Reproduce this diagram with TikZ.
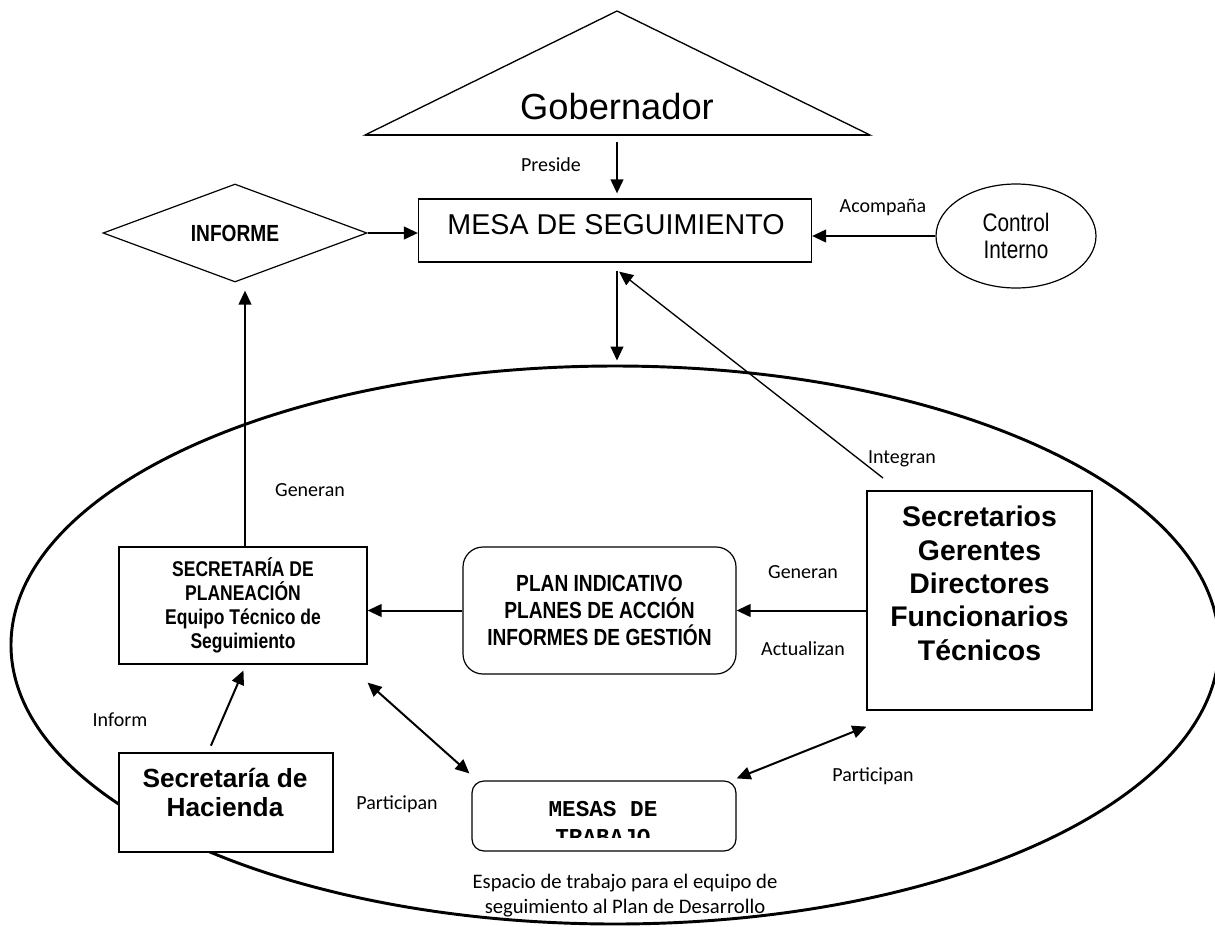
\documentclass[tikz,border=0pt]{standalone}
\usepackage{fontspec}
\setmainfont{Liberation Sans}
\newfontfamily\narrowfont[FakeStretch=0.82]{Liberation Sans}
\newfontfamily\calfont{Carlito}
\newfontfamily\mymono{Liberation Mono}
\usetikzlibrary{shapes.geometric,arrows.meta}
\begin{document}
\begin{tikzpicture}[x=0.75pt,y=-0.75pt,
  box/.style={draw, fill=white, line width=0.9pt, inner sep=0pt},
  arr/.style={line width=1.5pt, -{Triangle[length=10.5pt,width=9.5pt]}},
  darr/.style={line width=1.5pt, {Triangle[length=10.5pt,width=9.5pt]}-{Triangle[length=10.5pt,width=9.5pt]}},
  lbl/.style={font=\calfont\fontsize{15}{18}\selectfont, inner sep=0pt},
]
\useasboundingbox (0,0) rectangle (1215,926);

% big ellipse
\node[draw, ellipse, line width=2.2pt, minimum width=906pt, minimum height=418.5pt, inner sep=0pt] (esp) at (615,645) {};

% Gobernador
\draw[line width=1pt, line join=miter] (365,135) -- (617,11) -- (870,135) -- cycle;
\draw[line width=1.4pt] (365,135) -- (870,135);
\node[font=\fontsize{27.2}{31}\selectfont] (gob) at (617,107) {Gobernador};
\coordinate (gobb) at (617,135);

% Mesa de seguimiento
\node[box, minimum width=294.75pt, minimum height=47.25pt] (mesa) at (615,230.5) {};
\node[font=\fontsize{21.5}{25}\selectfont] (mesat) at (616,225) {MESA DE SEGUIMIENTO};
\draw[arr, shorten <=5.25pt, shorten >=3.75pt] (gobb) -- (gobb |- mesa.north);
\node[lbl] at (551,165) {Preside};

% Informe
\node[draw, fill=white, diamond, line width=0.9pt, minimum width=198pt, minimum height=73.5pt, inner sep=0pt, aspect=2.7, font=\narrowfont\bfseries\fontsize{17.5}{20}\selectfont] (inf) at (235,233) {INFORME};
\draw[arr] (inf.east) -- (inf.east -| mesa.west);

% Control interno
\node[draw, fill=white, ellipse, line width=0.9pt, minimum width=120pt, minimum height=78pt, inner sep=0pt, align=center, font=\narrowfont\fontsize{19}{20.5}\selectfont] (ctrl) at (1016,236) {Control\\Interno};
\draw[arr] (ctrl.west) -- (ctrl.west -| mesa.east);
\node[lbl] at (883,207) {Acompaña};

% mesa -> espacio
\draw[arr, shorten <=6pt, shorten >=3pt] ([xshift=1.5pt]mesa.south) -- ([xshift=1.5pt]esp.north);

% Integran
\coordinate (intg) at (883,478);
\draw[line width=1pt, -{Triangle[length=10.5pt,width=9.5pt]}, shorten >=11pt] (intg) -- ([xshift=-5.6pt]mesa.south);
\node[lbl] at (902,459) {Integran};

% Secretaria de planeacion
\node[box, minimum width=186pt, minimum height=87.75pt, align=center, font=\narrowfont\bfseries\fontsize{16}{18}\selectfont] (plan) at (243,605.5) {SECRETARÍA DE\\PLANEACIÓN\\Equipo Técnico de\\Seguimiento};
\draw[arr, shorten >=6pt] ([xshift=1.5pt]plan.north) -- ([xshift=1.5pt]plan.north |- inf.south);
\node[lbl] at (310,490) {Generan};

% Plan indicativo
\node[box, rounded corners=15pt, minimum width=204.75pt, minimum height=95.25pt, align=center, font=\narrowfont\bfseries\fontsize{17.5}{20.5}\selectfont] (pi) at (599.5,610.5) {PLAN INDICATIVO\\PLANES DE ACCIÓN\\INFORMES DE GESTIÓN};
\draw[arr] (pi.west) -- (pi.west -| plan.east);

% Secretarios
\node[box, minimum width=168.75pt, minimum height=164.25pt] (sec) at (979.5,600.5) {};
\node[align=center, font=\bfseries\fontsize{21.3}{25}\selectfont] (sect) at (979.5,583.5) {Secretarios\\Gerentes\\Directores\\Funcionarios\\Técnicos};
\draw[arr] (pi.east -| sec.west) -- (pi.east);
\node[lbl] at (803,572) {Generan};
\node[lbl] at (803,649) {Actualizan};

% Hacienda
\node[box, minimum width=160.5pt, minimum height=74.25pt] (hac) at (226,802.5) {};
\node[align=center, font=\bfseries\fontsize{19.7}{21.75}\selectfont] (hact) at (225,792.5) {Secretaría de\\Hacienda};
\draw[arr, shorten <=5.5pt, shorten >=4.8pt] ([xshift=-13.5pt]hac.north) -- ([xshift=2.25pt]plan.south);
\node[lbl] at (120,720) {Inform};

% Mesas de trabajo
\node[box, rounded corners=9pt, minimum width=198pt, minimum height=52.5pt] (mw) at (604,816) {};
\begin{scope}
\clip (472,781) rectangle (736,837.5);
\node[align=center, font=\mymono\bfseries\fontsize{17}{21}\selectfont] (mwt) at (603,823) {MESAS DE\\TRABAJO};
\end{scope}

\draw[darr] ([yshift=-13.5pt]plan.south east) -- ([xshift=-1.5pt,yshift=5.25pt]mw.north west);
\draw[darr] ([yshift=-12pt]sec.south west) -- ([yshift=1.5pt]mw.north east);
\node[lbl] at (397,804) {Participan};
\node[lbl] at (873,776) {Participan};

% Espacio
\node[align=center, font=\calfont\fontsize{15.5}{18.75}\selectfont] (espt) at (625,896) {Espacio de trabajo para el equipo de\\seguimiento al Plan de Desarrollo};
\end{tikzpicture}
\end{document}
